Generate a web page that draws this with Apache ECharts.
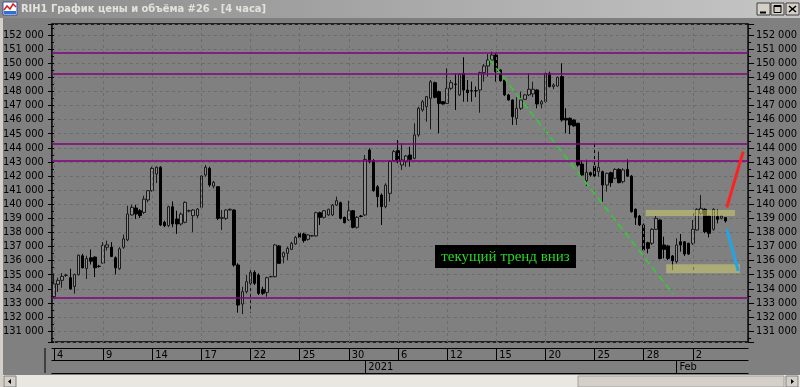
<!DOCTYPE html>
<html><head><meta charset="utf-8">
<script src="https://cdn.jsdelivr.net/npm/echarts@6/dist/echarts.min.js"></script>
<style>html,body{margin:0;padding:0;background:#808080;overflow:hidden}#c{width:800px;height:387px}</style>
</head><body><div id="c"></div><script>
// ---------- DATA ----------
// 4-hour candles [open, close, low, high]
const candlesDec = [
[133450,134350,133350,135100],[134320,134600,133780,134790],[134600,134880,134080,135120],[134950,134980,134850,135070],
[134790,133990,133940,135420],[134170,135020,133660,135070],[135000,136390,134950,136430],[136340,135490,135450,136480],
[135450,136150,134700,136340],[136200,135960,135730,136790],[136250,135490,134830,136300],[135600,135590,135500,135700],
[135820,137070,135780,137310],[136950,137120,136720,137420],[136950,136290,136250,137310],[136200,135490,135020,136300],
[135420,136840,135350,136950],[136950,137540,136840,137850],[137470,139310,137380,139890],[139240,139780,139190,139960],
[139730,139310,138950,139960],[139540,139190,139020,139660],[139420,140360,139310,140600],[140300,140960,140130,141000],
[140960,142540,140890,142660],[142140,142620,141500,142690],[142620,138530,138450,142700],[138720,138480,138370,138830],
[138480,139820,138370,139890],[139820,138600,138370,140200],[138950,138600,137900,139540],[138600,139300,138480,139420],
[138720,140130,138650,140200],[139520,139540,139420,139620],[139190,139590,138010,139660],[139190,139660,139020,139730],
[139780,142000,139700,142050],[142070,142620,141950,142780],[142540,141360,141240,142660],[141290,141550,141130,141650],
[141240,139000,138880,141290],[139000,139050,138170,139590],[139000,139590,138880,139640],[139590,139640,139550,139700],
[139590,135690,135570,139640],[135690,132850,132310,135810],[132920,133800,132210,134150],[133800,134510,133680,134980],
[134390,135170,132310,135400],[135170,134390,134270,135310],[134980,133680,133560,135100],[133960,133680,133560,134150],
[133750,134790,133440,134860],[134860,134870,134810,134920],[134860,137110,134810,137180],[137040,135810,135760,137110],
[136280,136560,135810,136640],[136520,136870,136040,136990],[136800,137230,136750,137340],[137180,137650,137110,137750],
[137940,137650,137580,138050],[137890,137420,137270,137980],[137510,137820,137420,137890],[137750,137770,137700,137820],
[137750,139400,137700,139470],[139400,139070,138530,139470],[139070,139540,139000,139590],[139240,139640,139160,139680],
[139240,139940,139160,140020],[139940,140250,139870,140540],[140110,139000,138930,140180],[139070,138690,138640,139120],
[138880,139540,138810,140250],[139540,138360,138290,139590],[138360,139070,138270,139160],[139160,139140,139070,139240]
];
const candlesJan = [
[139240,143180,139160,143490],[143840,143020,142900,143960],[143090,140960,140890,143200],[141240,140540,139780,141360],
[140650,139830,138530,140770],[139830,141360,139710,141480],[140770,143020,140180,143140],[143090,143730,143020,143850],
[143800,143020,142900,144550],[142780,143140,142430,144320],[143020,143420,142660,143490],[143490,143180,142660,144080],
[143250,144910,143180,145740],[144910,146800,144790,146920],[146680,147270,146560,147390],[146920,147630,145850,147670],
[147510,148690,145310,148810],[148620,147580,147510,148690],[147980,147150,145030,148050],[147270,147110,147060,147320],
[147150,148220,147110,149640],[148220,148620,148100,148810],[148520,148500,146680,149280],[147750,149230,147670,149280],
[149280,148100,147270,150420],[148100,147910,147270,148810],[148050,148030,147270,148690],[148050,148040,147600,148350],
[148100,149330,146490,149400],[149330,149800,148690,149940],[149800,150230,149050,150650],[150230,150580,150180,150820],
[150580,149400,148690,150700],[149520,148760,148690,149570],[148810,147750,147670,148860],[147750,147390,147340,147820],
[147390,146210,145620,147440],[146090,146800,145620,147580],[146800,147390,146680,147980],[147440,147750,147390,147820],
[147750,148150,147670,149280],[147820,148150,147600,148690],[148100,147110,146800,148150],[147110,147270,146800,147390],
[147270,149280,147200,149330],[149280,148340,148290,149400],[148340,148460,148150,148570],[148380,149000,148340,149050],
[149050,145970,145850,149990],[146090,145970,145030,146800],[146090,145620,144980,146160],[145970,145550,145500,146020],
[145740,142780,142660,145780],[142850,142070,141950,143140],[141670,142260,141290,143160],[142240,142070,141950,142310],
[142710,142000,141950,144440],[142310,142620,141950,143730],[142310,141360,140180,142380],[141360,142190,140890,142240],
[142240,141530,141240,142310],[141840,142470,141770,142550],[142470,141530,141480,142550],[141600,142430,141480,142550],
[142470,141990,141950,143180],[141990,139470,139400,142070],[139640,139070,138530,139710],[139160,138530,138460,139240],
[138530,136750,136640,138640],[137270,136870,136520,137340],[137230,138220,137110,138290],[138220,139000,138170,139160],
[138880,136160,136090,138930],[137110,136800,136160,137700],[137040,136160,136040,137110],[136330,136000,135330,136400]
];
const candlesFeb = [
[135930,137110,135810,137580],[137340,137110,136640,137890],[137340,136470,136330,137390],[137230,136470,136400,137270],
[137230,138220,137110,138880],[138170,139640,138120,139710],[139350,139710,139240,140650],[139640,138050,137940,139710],
[139160,137940,137650,139240],[138220,139640,138120,139710],[139120,138930,138640,139640],[139000,139160,138930,139240],
[139050,138810,138700,139070]
];
const slotCount = 170;
const dateTickIdx = [0,12,24,36,48,60,72,84,96,108,120,132,144,156];
const dateTickLabels = ['4','9','14','17','22','25','30','6','12','15','20','25','28','2'];
const monthTickIdx = [76,152];
const monthTickLabels = ['2021','Feb'];
const levels = [150750,149280,144280,143100,133400];
const trendDown = [[106.3,150280],[151.2,133630]];
const bandUpper = [[144.5,139370],[166.3,139370]];
const bandLower = [[149.5,135430],[167.5,135430]];
const arrowUp = [[164.3,139780],[168.3,143730]];
const arrowDown = [[164.3,138220],[167.1,135280]];
const noteText = 'текущий тренд вниз';
const titleText = 'RIH1 График цены и объёма #26 - [4 часа]';
const yMin = 130230, yMax = 152780;

// ---------- CHART ----------
const candles = candlesDec.concat(candlesJan, candlesFeb);
const cats = Array.from({length: slotCount}, (_, i) => String(i));
const fmt = v => String(Math.round(v)).replace(/\B(?=(\d{3})+(?!\d))/g, ' ');
const FONT = '"Liberation Sans Narrow","DejaVu Sans Condensed","Arial Narrow","Liberation Sans",sans-serif';
const chart = echarts.init(document.getElementById('c'), null, {renderer: 'canvas'});

const yAxisBase = (pos) => ({
  type: 'value', position: pos, min: yMin, max: yMax, splitNumber: 22, minInterval: 1000, maxInterval: 1000,
  axisLine: {show: false},
  axisTick: {show: true, length: 6, lineStyle: {color: '#000'}},
  minorTick: {show: true, splitNumber: 2, length: 3, lineStyle: {color: '#000'}},
  axisLabel: {show: true, margin: 8, formatter: fmt, showMinLabel: false, showMaxLabel: false,
    color: '#000', fontSize: 11, fontFamily: FONT},
  splitLine: {show: pos === 'left', lineStyle: {color: '#6c6c6c', type: [3, 3], width: 1}}
});

const dateLabelMap = {}; dateTickIdx.forEach((k, j) => dateLabelMap[k] = dateTickLabels[j]);
const monthLabelMap = {}; monthTickIdx.forEach((k, j) => monthLabelMap[k] = monthTickLabels[j]);

const option = {
  animation: false,
  backgroundColor: '#808080',
  grid: {left: 45, top: 24, width: 707, height: 318, show: true, borderColor: '#000', borderWidth: 1.5, backgroundColor: 'transparent', containLabel: false},
  xAxis: [
    {type: 'category', data: cats, boundaryGap: true, axisLine: {show: false}, axisTick: {show: false}, axisLabel: {show: false}, splitLine: {show: false}},
    {type: 'value', min: -0.5, max: slotCount - 0.5, show: false, position: 'top'},
    {type: 'category', data: cats, position: 'bottom', offset: 6, boundaryGap: true,
      axisLine: {show: true, lineStyle: {color: '#000', width: 1}},
      axisTick: {show: true, alignWithLabel: true, length: 12, interval: (i) => dateLabelMap[i] !== undefined, lineStyle: {color: '#000'}},
      axisLabel: {show: true, interval: (i) => dateLabelMap[i] !== undefined, formatter: (v, i) => dateLabelMap[i] || '',
        align: 'left', verticalAlign: 'top', margin: 2, padding: [0, 0, 0, 3], color: '#000', fontSize: 11, fontFamily: FONT},
      splitLine: {show: false}},
    {type: 'category', data: cats, position: 'bottom', offset: 18, boundaryGap: true,
      axisLine: {show: true, lineStyle: {color: '#000', width: 1}},
      axisTick: {show: true, alignWithLabel: true, length: 13, interval: (i) => monthLabelMap[i] !== undefined, lineStyle: {color: '#000'}},
      axisLabel: {show: true, interval: (i) => monthLabelMap[i] !== undefined, formatter: (v, i) => monthLabelMap[i] || '',
        align: 'left', verticalAlign: 'top', margin: 2, padding: [0, 0, 0, 3], color: '#000', fontSize: 11, fontFamily: FONT},
      splitLine: {show: false}},
    {type: 'category', data: cats, position: 'bottom', offset: 31, boundaryGap: true,
      axisLine: {show: true, lineStyle: {color: '#000', width: 1}}, axisTick: {show: false}, axisLabel: {show: false}, splitLine: {show: false}}
  ],
  yAxis: [yAxisBase('left'), yAxisBase('right')],
  series: [
    {type: 'line', xAxisIndex: 1, yAxisIndex: 0, data: [], z: 1, silent: true,
      markLine: {silent: true, symbol: 'none', label: {show: false}, animation: false,
        lineStyle: {color: '#6c6c6c', type: [3, 3], width: 1},
        data: dateTickIdx.map(k => ({xAxis: k}))}},
    {type: 'line', xAxisIndex: 1, yAxisIndex: 0, data: [], z: 2, silent: true,
      markLine: {silent: true, symbol: 'none', label: {show: false}, animation: false,
        lineStyle: {color: '#800080', type: 'solid', width: 1.6},
        data: levels.map(v => ({yAxis: v}))}},
    {type: 'candlestick', xAxisIndex: 0, yAxisIndex: 0, data: candles, z: 3, barWidth: 3,
      itemStyle: {color: '#8c8c8c', color0: '#000000', borderColor: '#1a1a1a', borderColor0: '#000000', borderWidth: 1}},
    {type: 'line', xAxisIndex: 1, yAxisIndex: 0, data: trendDown, z: 4, symbol: 'none', silent: true,
      lineStyle: {color: '#2ed02e', width: 1.5, type: [7, 4]}},
    {type: 'line', xAxisIndex: 1, yAxisIndex: 0, data: bandUpper, z: 4, symbol: 'none', silent: true,
      lineStyle: {color: 'rgba(205,205,110,0.55)', width: 6, cap: 'butt'}},
    {type: 'line', xAxisIndex: 1, yAxisIndex: 0, data: bandLower, z: 4, symbol: 'none', silent: true,
      lineStyle: {color: 'rgba(205,205,110,0.55)', width: 9, cap: 'butt'}},
    {type: 'line', xAxisIndex: 1, yAxisIndex: 0, data: arrowUp, z: 5, symbol: 'none', silent: true,
      lineStyle: {color: '#ff2020', width: 3}},
    {type: 'line', xAxisIndex: 1, yAxisIndex: 0, data: arrowDown, z: 5, symbol: 'none', silent: true,
      lineStyle: {color: '#1fa6e8', width: 3}}
  ],
  graphic: [
    // window frame
    {type: 'rect', shape: {x: 0, y: 0, width: 800, height: 18}, style: {fill: new echarts.graphic.LinearGradient(0, 0, 1, 0, [{offset: 0, color: '#8a8a8a'}, {offset: 1, color: '#c6c6c6'}])}, z: 100},
    {type: 'rect', shape: {x: 0, y: 18, width: 3, height: 369}, style: {fill: '#d4d0c8'}, z: 100},
    {type: 'rect', shape: {x: 3, y: 2, width: 14, height: 13}, style: {fill: '#ffffff', stroke: '#3050a0', lineWidth: 1}, z: 101},
    {type: 'polyline', shape: {points: [[4, 10], [7, 6], [10, 9], [13, 4], [16, 7]]}, style: {stroke: '#d02020', lineWidth: 1.5, fill: null}, z: 102},
    {type: 'rect', shape: {x: 4, y: 11, width: 12, height: 3}, style: {fill: '#3070d0'}, z: 102},
    {type: 'text', style: {x: 21, y: 9, text: titleText, fill: '#e4e2dc', font: 'bold 11px "Liberation Sans Narrow","DejaVu Sans Condensed","Liberation Sans",sans-serif', verticalAlign: 'middle'}, z: 101},
    // caption buttons
    {type: 'rect', shape: {x: 757, y: 3, width: 13, height: 12}, style: {fill: '#d4d0c8', stroke: '#404040', lineWidth: 1}, z: 101},
    {type: 'rect', shape: {x: 771, y: 3, width: 13, height: 12}, style: {fill: '#d4d0c8', stroke: '#404040', lineWidth: 1}, z: 101},
    {type: 'rect', shape: {x: 786, y: 3, width: 13, height: 12}, style: {fill: '#d4d0c8', stroke: '#404040', lineWidth: 1}, z: 101},
    {type: 'line', shape: {x1: 760, y1: 12.5, x2: 766, y2: 12.5}, style: {stroke: '#000', lineWidth: 2}, z: 102},
    {type: 'rect', shape: {x: 774, y: 5.5, width: 7, height: 7}, style: {fill: null, stroke: '#000', lineWidth: 1}, z: 102},
    {type: 'line', shape: {x1: 774, y1: 6, x2: 781, y2: 6}, style: {stroke: '#000', lineWidth: 2}, z: 102},
    {type: 'line', shape: {x1: 789, y1: 6, x2: 796, y2: 12}, style: {stroke: '#000', lineWidth: 1.6}, z: 102},
    {type: 'line', shape: {x1: 796, y1: 6, x2: 789, y2: 12}, style: {stroke: '#000', lineWidth: 1.6}, z: 102},
    // date box left edge
    {type: 'line', shape: {x1: 45, y1: 348, x2: 45, y2: 373}, style: {stroke: '#000', lineWidth: 1}, z: 50},
    // scrollbar
    {type: 'rect', shape: {x: 3, y: 375, width: 797, height: 12}, style: {fill: '#e9e7e1'}, z: 100},
    {type: 'rect', shape: {x: 4, y: 376, width: 12, height: 11}, style: {fill: '#d4d0c8', stroke: '#808080', lineWidth: 1}, z: 101},
    {type: 'polygon', shape: {points: [[8, 381.5], [11, 379], [11, 384]]}, style: {fill: '#000'}, z: 102},
    {type: 'rect', shape: {x: 578, y: 376, width: 206, height: 11}, style: {fill: '#d4d0c8', stroke: '#a0a0a0', lineWidth: 1}, z: 101},
    {type: 'rect', shape: {x: 786, y: 376, width: 12, height: 11}, style: {fill: '#d4d0c8', stroke: '#808080', lineWidth: 1}, z: 101},
    {type: 'polygon', shape: {points: [[794, 381.5], [791, 379], [791, 384]]}, style: {fill: '#000'}, z: 102},
    // annotation
    {type: 'rect', shape: {x: 435, y: 245, width: 141, height: 23}, style: {fill: '#000'}, z: 110},
    {type: 'text', style: {x: 505.5, y: 257, text: noteText, fill: '#26d926', font: '15px "Liberation Serif","DejaVu Serif",serif', align: 'center', verticalAlign: 'middle'}, z: 111}
  ]
};
chart.setOption(option);
</script></body></html>
